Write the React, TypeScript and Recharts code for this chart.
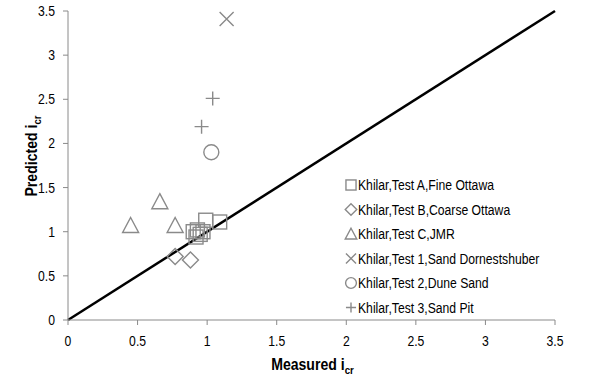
import * as React from 'react';
import { ScatterChart, Scatter, XAxis, YAxis, ReferenceLine } from 'recharts';

// Measured vs predicted critical gradient, one series per test.
const testA = [
  { x: 0.99, y: 1.13 },
  { x: 1.09, y: 1.11 },
  { x: 0.9, y: 1.0 },
  { x: 0.93, y: 1.02 },
  { x: 0.95, y: 0.97 },
  { x: 0.92, y: 0.94 },
  { x: 0.97, y: 1.0 },
];
const testB = [
  { x: 0.77, y: 0.72 },
  { x: 0.88, y: 0.68 },
];
const testC = [
  { x: 0.45, y: 1.07 },
  { x: 0.66, y: 1.34 },
  { x: 0.77, y: 1.07 },
];
const test1 = [{ x: 1.14, y: 3.41 }];
const test2 = [{ x: 1.03, y: 1.9 }];
const test3 = [
  { x: 1.04, y: 2.51 },
  { x: 0.96, y: 2.19 },
];

const ticks = [0, 0.5, 1, 1.5, 2, 2.5, 3, 3.5];

const GREY = '#8a8a8a';
const FONT = '"Liberation Sans", Arial, sans-serif';
// narrow-ish look without a condensed face installed
const SQUEEZE = 0.87;

type Kind = 'square' | 'diamond' | 'triangle' | 'cross' | 'circle' | 'plus';

function Marker({ kind, cx, cy, s = 1 }: { kind: Kind; cx: number; cy: number; s?: number }) {
  const common = { fill: 'none', stroke: GREY, strokeWidth: 1.4 };
  const h = 7 * s;
  switch (kind) {
    case 'square':
      return <rect x={cx - h} y={cy - h} width={2 * h} height={2 * h} {...common} />;
    case 'diamond': {
      const d = 8 * s;
      return <path d={`M${cx},${cy - d}L${cx + d},${cy}L${cx},${cy + d}L${cx - d},${cy}Z`} {...common} />;
    }
    case 'triangle': {
      const w = 8 * s;
      return <path d={`M${cx},${cy - w}L${cx + w},${cy + 7 * s}L${cx - w},${cy + 7 * s}Z`} {...common} />;
    }
    case 'cross':
      return (
        <path d={`M${cx - h},${cy - h}L${cx + h},${cy + h}M${cx + h},${cy - h}L${cx - h},${cy + h}`} {...common} />
      );
    case 'circle':
      return <circle cx={cx} cy={cy} r={7.5 * s} {...common} />;
    case 'plus':
      return <path d={`M${cx - h},${cy}L${cx + h},${cy}M${cx},${cy - h}L${cx},${cy + h}`} {...common} />;
  }
}

const series: { name: string; data: { x: number; y: number }[]; kind: Kind }[] = [
  { name: 'Khilar,Test A,Fine Ottawa', data: testA, kind: 'square' },
  { name: 'Khilar,Test B,Coarse Ottawa', data: testB, kind: 'diamond' },
  { name: 'Khilar,Test C,JMR', data: testC, kind: 'triangle' },
  { name: 'Khilar,Test 1,Sand Dornestshuber', data: test1, kind: 'cross' },
  { name: 'Khilar,Test 2,Dune Sand', data: test2, kind: 'circle' },
  { name: 'Khilar,Test 3,Sand Pit', data: test3, kind: 'plus' },
];

function LegendBox() {
  return (
    <svg
      width={220}
      height={150}
      style={{ position: 'absolute', left: 343, top: 176, overflow: 'visible' }}
    >
      {series.map((s, i) => (
        <g key={s.name} transform={`translate(0, ${i * 24.5})`}>
          <Marker kind={s.kind} cx={8} cy={9} s={0.72} />
          <text
            transform={`translate(15, 14) scale(${SQUEEZE}, 1)`}
            fontSize={14}
            fontFamily={FONT}
            fill="#000"
          >
            {s.name}
          </text>
        </g>
      ))}
    </svg>
  );
}

const XTick = ({ x, y, payload }: any) => (
  <text
    transform={`translate(${x}, ${y}) scale(${SQUEEZE}, 1)`}
    textAnchor="middle"
    dy="0.71em"
    fontSize={14}
    fontFamily={FONT}
    fill="#000"
  >
    {payload.value}
  </text>
);

const YTick = ({ x, y, payload }: any) => (
  <text
    transform={`translate(${x}, ${y}) scale(${SQUEEZE}, 1)`}
    textAnchor="end"
    dy="0.355em"
    fontSize={14}
    fontFamily={FONT}
    fill="#000"
  >
    {payload.value}
  </text>
);

const xTitle = (props: any) => {
  const { viewBox } = props;
  const cx = viewBox.x + viewBox.width / 2;
  return (
    <text
      transform={`translate(${cx + 1}, 370) scale(0.88, 1)`}
      textAnchor="middle"
      fontFamily={FONT}
      fontWeight="bold"
      fontSize={16}
      fill="#000"
    >
      Measured i
      <tspan fontSize={11} dy={4}>cr</tspan>
    </text>
  );
};

const yTitle = () => (
  <text
    transform="translate(37, 156) rotate(-90) scale(0.88, 1)"
    textAnchor="middle"
    fontFamily={FONT}
    fontWeight="bold"
    fontSize={16}
    fill="#000"
  >
    Predicted i
    <tspan fontSize={11} dy={4}>cr</tspan>
  </text>
);

export default function App() {
  return (
    <div style={{ position: 'fixed', left: 0, top: 0, width: 606, height: 391, background: '#fff' }}>
      <ScatterChart width={606} height={391} margin={{ top: 11, right: 51, bottom: 21, left: 20 }}>
        <XAxis
          type="number"
          dataKey="x"
          domain={[0, 3.5]}
          ticks={ticks}
          interval={0}
          height={50}
          stroke={GREY}
          tick={<XTick />}
          tickLine={{ stroke: GREY }}
          tickSize={5}
          tickMargin={11}
          label={xTitle}
        />
        <YAxis
          type="number"
          dataKey="y"
          domain={[0, 3.5]}
          ticks={ticks}
          interval={0}
          width={48}
          stroke={GREY}
          tick={<YTick />}
          tickLine={{ stroke: GREY }}
          tickSize={5}
          tickMargin={8}
          label={yTitle}
        />
        <ReferenceLine
          segment={[
            { x: 0, y: 0 },
            { x: 3.5, y: 3.5 },
          ]}
          stroke="#000"
          strokeWidth={2.5}
        />
        {series.map((s) => (
          <Scatter
            key={s.name}
            name={s.name}
            data={s.data}
            isAnimationActive={false}
            shape={(p: any) => <Marker kind={s.kind} cx={p.cx} cy={p.cy} />}
          />
        ))}
      </ScatterChart>
      <LegendBox />
    </div>
  );
}
